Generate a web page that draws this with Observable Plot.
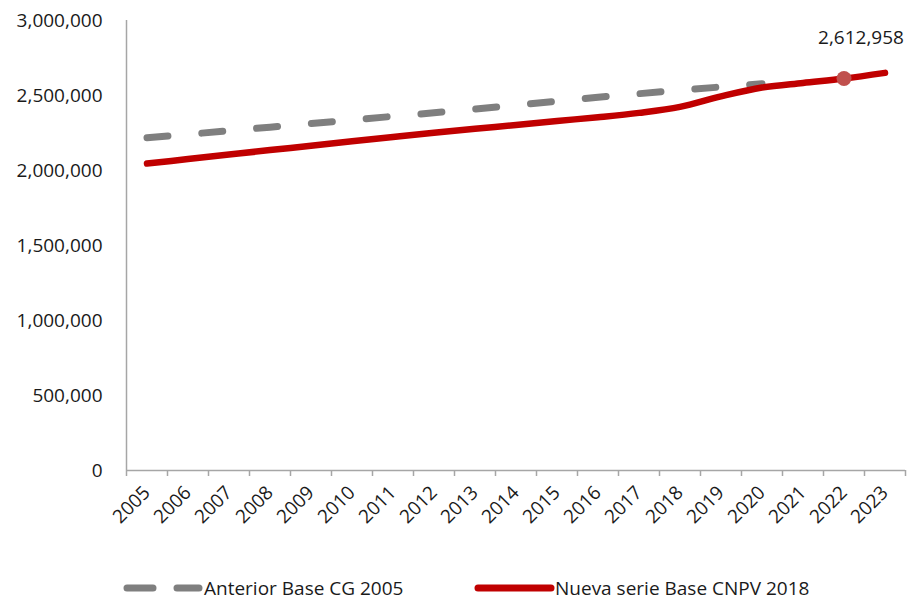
<!DOCTYPE html>
<html>
<head>
<meta charset="utf-8">
<script src="https://cdn.jsdelivr.net/npm/d3@7"></script>
<script src="https://cdn.jsdelivr.net/npm/@observablehq/plot@0.6"></script>
<style>
  html, body { margin: 0; padding: 0; background: #fff; }
  body { width: 910px; height: 603px; overflow: hidden; font-family: "Open Sans", sans-serif; }
  #legend { position: relative; height: 43px; font-size: 19px; line-height: 20px; color: #1a1a1a; }
  #legend .item { position: absolute; top: 18px; height: 20px; display: flex; align-items: center; white-space: nowrap; }
  #legend svg { display: block; }
</style>
</head>
<body>
<div id="chart"></div>
<div id="legend"></div>
<script>
const years = [2005, 2006, 2007, 2008, 2009, 2010, 2011, 2012, 2013, 2014, 2015, 2016, 2017, 2018, 2019, 2020, 2021, 2022, 2023];
const anteriorYears = [2005, 2006, 2007, 2008, 2009, 2010, 2011, 2012, 2013, 2014, 2015, 2016, 2017, 2018, 2019, 2020];
const anteriorValues = [2218000, 2241000, 2265000, 2289000, 2313000, 2337000, 2361000, 2385000, 2410000, 2436000, 2462000, 2488000, 2512000, 2535000, 2557000, 2578000];
const nuevaValues = [2046000, 2076000, 2106000, 2136000, 2165000, 2195000, 2224000, 2252000, 2278000, 2303000, 2330000, 2355000, 2384000, 2424000, 2494000, 2553000, 2584000, 2612958, 2651000];
const highlightYear = 2022;
const highlightValue = 2612958;
const yTicks = [0, 500000, 1000000, 1500000, 2000000, 2500000, 3000000];
const seriesNames = ["Anterior Base CG 2005", "Nueva serie Base CNPV 2018"];

const anterior = anteriorYears.map((year, i) => ({year, value: anteriorValues[i]}));
const nueva = years.map((year, i) => ({year, value: nuevaValues[i]}));
const highlight = [{year: highlightYear, value: highlightValue}];
const boundaries = years.map(y => y - 0.5).concat([years[years.length - 1] + 0.5]);

const gray = "#7f7f7f";
const red = "#c00000";
const fmt = d3.format(",");

const chart = Plot.plot({
  width: 910,
  height: 560,
  marginLeft: 126,
  marginRight: 5,
  marginTop: 20,
  marginBottom: 90,
  style: {fontFamily: "Open Sans, sans-serif", fontSize: "19px", color: "#1a1a1a", background: "#fff"},
  x: {type: "linear", domain: [boundaries[0], boundaries[boundaries.length - 1]], label: null},
  y: {domain: [0, 3000000], label: null},
  marks: [
    Plot.ruleX([boundaries[0]], {y1: 0, y2: 3000000, stroke: "#a6a6a6", strokeWidth: 1.5}),
    Plot.ruleY([0], {stroke: "#a6a6a6", strokeWidth: 1.5}),
    Plot.axisX(boundaries, {tickSize: 6, tickFormat: () => "", stroke: "#a6a6a6", strokeWidth: 1.5, label: null}),
    Plot.axisX(years, {tickSize: 0, tickPadding: 19, tickRotate: -45, tickFormat: d => String(d), fontSize: 19, color: "#1a1a1a", label: null}),
    Plot.axisY(yTicks, {tickSize: 0, tickPadding: 24, tickFormat: fmt, fontSize: 19, color: "#1a1a1a", label: null}),
    Plot.lineY(anterior, {x: "year", y: "value", stroke: gray, strokeWidth: 7, strokeDasharray: "21,34", strokeLinecap: "round"}),
    Plot.lineY(nueva, {x: "year", y: "value", stroke: red, strokeWidth: 6.5, curve: "catmull-rom", strokeLinecap: "round"}),
    Plot.dot(highlight, {x: "year", y: "value", r: 7.5, fill: "#c0504d", stroke: "none"}),
    Plot.text(highlight, {x: "year", y: "value", text: d => fmt(d.value), dy: -41, dx: 17, fontSize: 19, fill: "#1a1a1a"})
  ]
});
document.getElementById("chart").appendChild(chart);

// Legend
const legend = d3.select("#legend");
const item1 = legend.append("div").attr("class", "item").style("left", "122px");
const s1 = item1.append("svg").attr("width", 82).attr("height", 14);
s1.append("line").attr("x1", 5).attr("x2", 77).attr("y1", 7).attr("y2", 7)
  .attr("stroke", gray).attr("stroke-width", 7).attr("stroke-linecap", "round").attr("stroke-dasharray", "26,24");
item1.append("span").text(seriesNames[0]);

const item2 = legend.append("div").attr("class", "item").style("left", "473px");
const s2 = item2.append("svg").attr("width", 82).attr("height", 14);
s2.append("line").attr("x1", 5).attr("x2", 78).attr("y1", 7).attr("y2", 7)
  .attr("stroke", red).attr("stroke-width", 7).attr("stroke-linecap", "round");
item2.append("span").text(seriesNames[1]);
</script>
</body>
</html>
